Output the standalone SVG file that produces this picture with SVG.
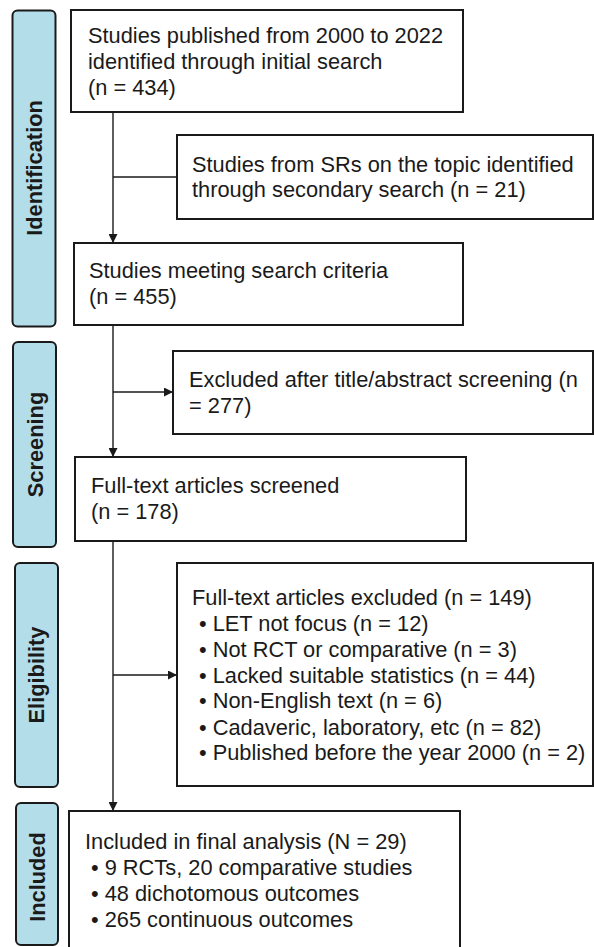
<svg xmlns="http://www.w3.org/2000/svg" width="594" height="947" viewBox="0 0 594 947">
<defs>
<style>
.lbl{fill:#b3dde9;stroke:#1a1a1a;stroke-width:2}
.lt{font-family:"Liberation Sans",Arial,sans-serif;font-size:21.8px;font-weight:bold;fill:#1a1a1a;text-anchor:middle}
.box{fill:#fff;stroke:#1a1a1a;stroke-width:2}
.t{font-family:"Liberation Sans",Arial,sans-serif;font-size:21.8px;fill:#1a1a1a}
.c{fill:none;stroke:#1a1a1a;stroke-width:1.4}
</style>
<marker id="ah" viewBox="0 0 10 10" refX="10" refY="5" markerWidth="9" markerHeight="9" markerUnits="userSpaceOnUse" orient="auto">
<path d="M0,0 L10,5 L0,10 Z" fill="#1a1a1a"/>
</marker>
</defs>
<rect width="594" height="947" fill="#fff"/>
<g id="stage-identification">
<rect class="lbl" x="12.5" y="10.5" width="43" height="316" rx="5"/>
<text class="lt" transform="translate(42,168) rotate(-90)">Identification</text>
</g>
<g id="stage-screening">
<rect class="lbl" x="13" y="342" width="43" height="205" rx="5"/>
<text class="lt" transform="translate(42.5,444.5) rotate(-90)">Screening</text>
</g>
<g id="stage-eligibility">
<rect class="lbl" x="15" y="563" width="43" height="224" rx="5"/>
<text class="lt" transform="translate(44,675) rotate(-90)">Eligibility</text>
</g>
<g id="stage-included">
<rect class="lbl" x="16" y="803" width="42" height="142" rx="5"/>
<text class="lt" transform="translate(45,877) rotate(-90)">Included</text>
</g>
<g id="connectors">
<line class="c" x1="113" y1="112" x2="113" y2="243" marker-end="url(#ah)"/>
<line class="c" x1="113" y1="177" x2="177" y2="177"/>
<line class="c" x1="113" y1="325" x2="113" y2="457" marker-end="url(#ah)"/>
<line class="c" x1="113" y1="392" x2="173" y2="392" marker-end="url(#ah)"/>
<line class="c" x1="113" y1="541" x2="113" y2="811" marker-end="url(#ah)"/>
<line class="c" x1="113" y1="675" x2="177" y2="675" marker-end="url(#ah)"/>
</g>
<g id="n-initial">
<rect class="box" x="71" y="10" width="392" height="102"/>
<text class="t" x="88" y="43">Studies published from 2000 to 2022</text>
<text class="t" x="88" y="69">identified through initial search</text>
<text class="t" x="88" y="95">(n = 434)</text>
</g>
<g id="n-secondary">
<rect class="box" x="177" y="135" width="416" height="84"/>
<text class="t" x="192" y="172">Studies from SRs on the topic identified</text>
<text class="t" x="192" y="197">through secondary search (n = 21)</text>
</g>
<g id="n-meeting">
<rect class="box" x="74" y="243" width="389" height="82"/>
<text class="t" x="89" y="278">Studies meeting search criteria</text>
<text class="t" x="89" y="304">(n = 455)</text>
</g>
<g id="n-excluded-screen">
<rect class="box" x="173" y="351" width="420" height="83"/>
<text class="t" x="189" y="387">Excluded after title/abstract screening (n</text>
<text class="t" x="189" y="413">= 277)</text>
</g>
<g id="n-fulltext">
<rect class="box" x="75" y="457" width="391" height="84"/>
<text class="t" x="91" y="493">Full-text articles screened</text>
<text class="t" x="91" y="519">(n = 178)</text>
</g>
<g id="n-excluded-full">
<rect class="box" x="177" y="563" width="416" height="223"/>
<text class="t" x="192" y="605">Full-text articles excluded (n = 149)</text>
<text class="t" x="199" y="631">• LET not focus (n = 12)</text>
<text class="t" x="199" y="657">• Not RCT or comparative (n = 3)</text>
<text class="t" x="199" y="683">• Lacked suitable statistics (n = 44)</text>
<text class="t" x="199" y="708">• Non-English text (n = 6)</text>
<text class="t" x="199" y="735">• Cadaveric, laboratory, etc (n = 82)</text>
<text class="t" x="199" y="760">• Published before the year 2000 (n = 2)</text>
</g>
<g id="n-included">
<rect class="box" x="69" y="811" width="391" height="150"/>
<text class="t" x="85" y="849">Included in final analysis (N = 29)</text>
<text class="t" x="91" y="875">• 9 RCTs, 20 comparative studies</text>
<text class="t" x="91" y="901">• 48 dichotomous outcomes</text>
<text class="t" x="91" y="927">• 265 continuous outcomes</text>
</g>
</svg>
